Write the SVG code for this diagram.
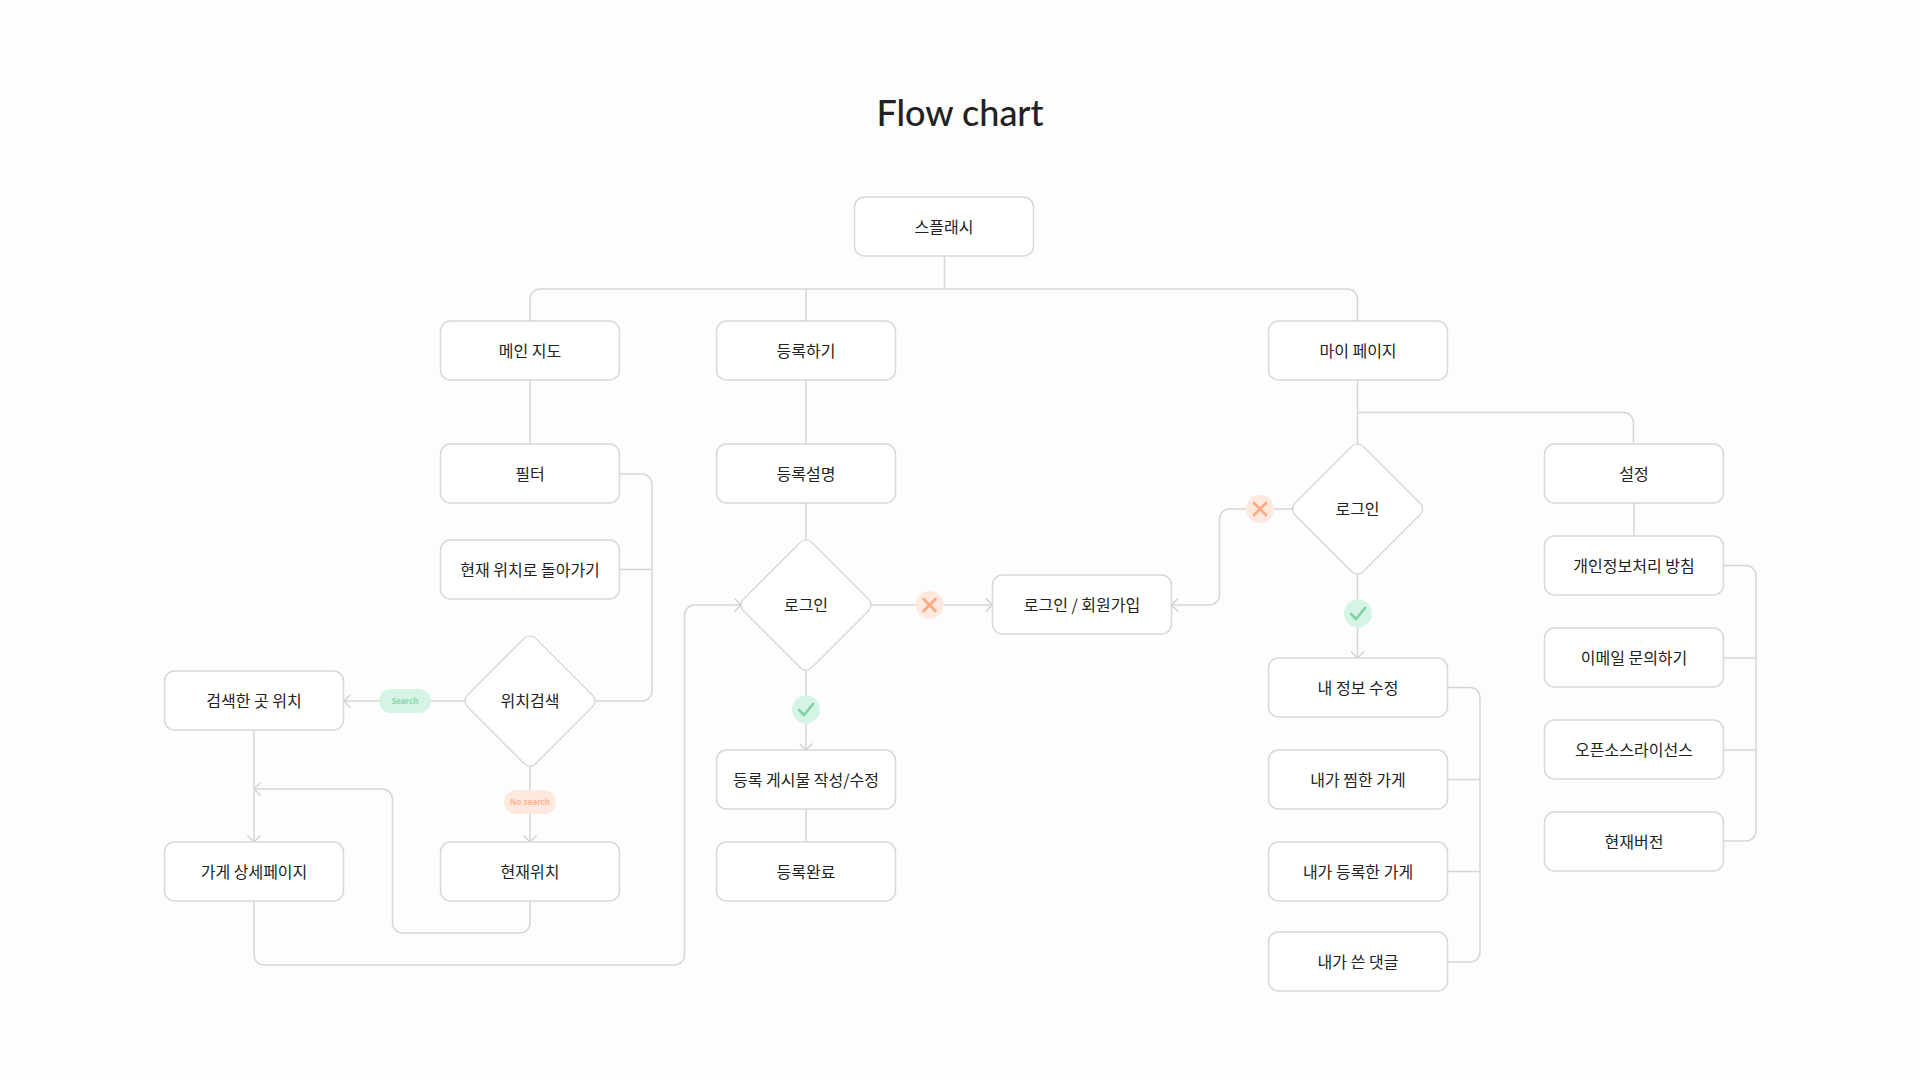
<svg xmlns="http://www.w3.org/2000/svg" width="1920" height="1080" viewBox="0 0 1920 1080">
<style>
.n rect{fill:#fff;stroke:#d8d8d8;stroke-width:1.5}
.n text{font-family:"Noto Sans CJK KR","Noto Sans",sans-serif;font-size:16px;fill:#222;text-anchor:middle}
.c path{fill:none;stroke:#d6d6d6;stroke-width:1.5}
.a{marker-end:url(#ah)}
.pill text{font-family:"Noto Sans","Noto Sans CJK KR",sans-serif;font-size:8px;font-weight:700;text-anchor:middle}
.i{fill:none;stroke-width:2.6;stroke-linecap:round;stroke-linejoin:round}
</style>
<defs>
<marker id="ah" markerUnits="userSpaceOnUse" markerWidth="16" markerHeight="16" refX="8" refY="8" orient="auto" viewBox="0 0 16 16" overflow="visible"><path d="M1.5 1.5L8 8L1.5 14.5" fill="none" stroke="#d0d0d0" stroke-width="1.3"/></marker>
<rect id="d" x="-48.3" y="-48.3" width="96.6" height="96.6" rx="8" transform="rotate(45)"/>
</defs>
<rect width="1920" height="1080" fill="#fdfdfd"/>
<text x="960" y="126" font-family="Lato,sans-serif" font-size="36" font-weight="500" fill="#222" text-anchor="middle">Flow chart</text>
<g id="connectors" class="c">
<path d="M944.5 256V289"/>
<path d="M530 321V299a10 10 0 0 1 10-10H1347.5a10 10 0 0 1 10 10V321"/>
<path d="M806 289V321"/>
<path d="M530 380V444"/>
<path d="M806 380V444"/>
<path d="M806 503V540"/>
<path d="M619.5 474H642a10 10 0 0 1 10 10V691a10 10 0 0 1-10 10H595"/>
<path d="M619.5 569.5H652"/>
<path class="a" d="M465 701H344"/>
<path class="a" d="M530 766V842"/>
<path class="a" d="M254 730V842"/>
<path class="a" d="M530 901V923a10 10 0 0 1-10 10H402.5a10 10 0 0 1-10-10V799a10 10 0 0 0-10-10H254"/>
<path class="a" d="M254 901V955a10 10 0 0 0 10 10H674.5a10 10 0 0 0 10-10V615a10 10 0 0 1 10-10H741"/>
<path class="a" d="M871 605H992.5"/>
<path class="a" d="M806 670V750"/>
<path d="M806 809V842"/>
<path d="M1357.5 380V444"/>
<path d="M1357.5 412.5H1623.5a10 10 0 0 1 10 10V444"/>
<path d="M1634 503V536"/>
<path class="a" d="M1292.5 509H1229.5a10 10 0 0 0-10 10V595a10 10 0 0 1-10 10H1171.5"/>
<path class="a" d="M1357.5 574V658"/>
<path d="M1447.5 687.5H1470a10 10 0 0 1 10 10V952a10 10 0 0 1-10 10H1447.5"/>
<path d="M1447.5 779.5H1480"/>
<path d="M1447.5 871.5H1480"/>
<path d="M1723.5 565.5H1746a10 10 0 0 1 10 10V831a10 10 0 0 1-10 10H1723.5"/>
<path d="M1723.5 658H1756"/>
<path d="M1723.5 750H1756"/>
</g>
<g id="splash" class="n"><rect x="854.5" y="197" width="179" height="59" rx="10"/><text x="944" y="233">스플래시</text></g>
<g id="main-map" class="n"><rect x="440.5" y="321" width="179" height="59" rx="10"/><text x="530" y="357">메인 지도</text></g>
<g id="register" class="n"><rect x="716.5" y="321" width="179" height="59" rx="10"/><text x="806" y="357">등록하기</text></g>
<g id="my-page" class="n"><rect x="1268.5" y="321" width="179" height="59" rx="10"/><text x="1358" y="357">마이 페이지</text></g>
<g id="filter" class="n"><rect x="440.5" y="444" width="179" height="59" rx="10"/><text x="530" y="480">필터</text></g>
<g id="back-to-location" class="n"><rect x="440.5" y="540" width="179" height="59" rx="10"/><text x="530" y="576">현재 위치로 돌아가기</text></g>
<g id="register-desc" class="n"><rect x="716.5" y="444" width="179" height="59" rx="10"/><text x="806" y="480">등록설명</text></g>
<g id="settings" class="n"><rect x="1544.5" y="444" width="179" height="59" rx="10"/><text x="1634" y="480">설정</text></g>
<g id="privacy" class="n"><rect x="1544.5" y="536" width="179" height="59" rx="10"/><text x="1634" y="572">개인정보처리 방침</text></g>
<g id="email" class="n"><rect x="1544.5" y="628" width="179" height="59" rx="10"/><text x="1634" y="664">이메일 문의하기</text></g>
<g id="oss" class="n"><rect x="1544.5" y="720" width="179" height="59" rx="10"/><text x="1634" y="756">오픈소스라이선스</text></g>
<g id="version" class="n"><rect x="1544.5" y="812" width="179" height="59" rx="10"/><text x="1634" y="848">현재버전</text></g>
<g id="login-join" class="n"><rect x="992.5" y="575" width="179" height="59" rx="10"/><text x="1082" y="611">로그인 / 회원가입</text></g>
<g id="searched" class="n"><rect x="164.5" y="671" width="179" height="59" rx="10"/><text x="254" y="707">검색한 곳 위치</text></g>
<g id="store-detail" class="n"><rect x="164.5" y="842" width="179" height="59" rx="10"/><text x="254" y="878">가게 상세페이지</text></g>
<g id="current" class="n"><rect x="440.5" y="842" width="179" height="59" rx="10"/><text x="530" y="878">현재위치</text></g>
<g id="post-edit" class="n"><rect x="716.5" y="750" width="179" height="59" rx="10"/><text x="806" y="786">등록 게시물 작성/수정</text></g>
<g id="done" class="n"><rect x="716.5" y="842" width="179" height="59" rx="10"/><text x="806" y="878">등록완료</text></g>
<g id="edit-info" class="n"><rect x="1268.5" y="658" width="179" height="59" rx="10"/><text x="1358" y="694">내 정보 수정</text></g>
<g id="liked" class="n"><rect x="1268.5" y="750" width="179" height="59" rx="10"/><text x="1358" y="786">내가 찜한 가게</text></g>
<g id="my-stores" class="n"><rect x="1268.5" y="842" width="179" height="59" rx="10"/><text x="1358" y="878">내가 등록한 가게</text></g>
<g id="my-comments" class="n"><rect x="1268.5" y="932" width="179" height="59" rx="10"/><text x="1358" y="968">내가 쓴 댓글</text></g>
<g id="d-location" class="n"><use href="#d" transform="translate(530 701)" fill="#fff" stroke="#d0d0d0" stroke-width="1.2"/><text x="530" y="707">위치검색</text></g>
<g id="d-login1" class="n"><use href="#d" transform="translate(806 605)" fill="#fff" stroke="#d0d0d0" stroke-width="1.2"/><text x="806" y="611">로그인</text></g>
<g id="d-login2" class="n"><use href="#d" transform="translate(1357.5 509)" fill="#fff" stroke="#d0d0d0" stroke-width="1.2"/><text x="1357.5" y="515">로그인</text></g>
<g id="search-pill" class="pill"><rect x="379" y="689" width="52" height="24" rx="12" fill="#d6f4e5"/><text x="405" y="704" fill="#8ad6b0">Search</text></g>
<g id="nosearch-pill" class="pill"><rect x="504" y="790" width="52" height="24" rx="12" fill="#ffe9df"/><text x="530" y="805" fill="#ffb593">No search</text></g>
<g id="x1"><circle cx="929.5" cy="605" r="14" fill="#ffe9df"/><path class="i" stroke="#ffa880" d="M923.5 599L935.5 611M935.5 599L923.5 611"/></g>
<g id="x2"><circle cx="1260" cy="509" r="14" fill="#ffe9df"/><path class="i" stroke="#ffa880" d="M1254 503L1266 515M1266 503L1254 515"/></g>
<g id="ok1"><circle cx="806" cy="709.5" r="14" fill="#d6f4e5"/><path class="i" stroke="#7fcfa6" d="M799 710L804 715L813 704"/></g>
<g id="ok2"><circle cx="1358" cy="613.5" r="14" fill="#d6f4e5"/><path class="i" stroke="#7fcfa6" d="M1351 614L1356 619L1365 608"/></g>
</svg>
